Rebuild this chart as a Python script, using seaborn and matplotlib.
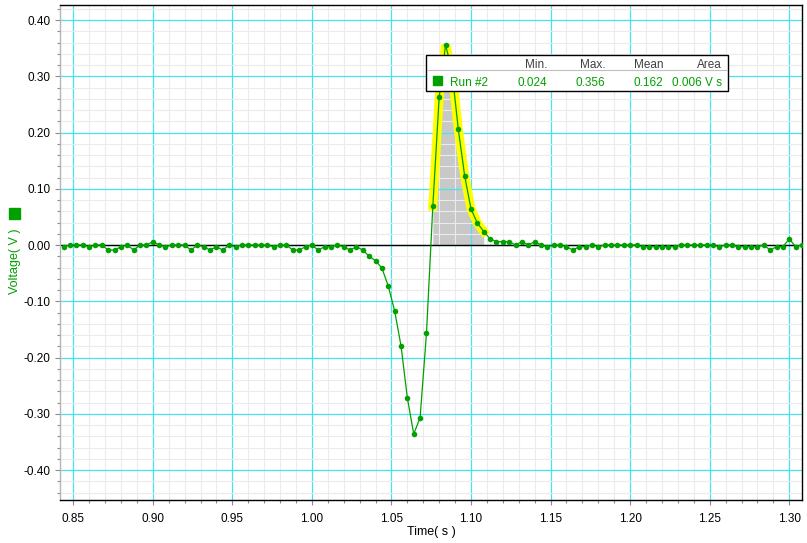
import numpy as np
import matplotlib
matplotlib.use("Agg")
import matplotlib.pyplot as plt
from matplotlib.patches import Rectangle
from matplotlib.lines import Line2D
from matplotlib.ticker import MultipleLocator, FuncFormatter
import seaborn as sns

time = [0.844, 0.848, 0.852, 0.856, 0.860, 0.864, 0.868, 0.872, 0.876, 0.880,
        0.884, 0.888, 0.892, 0.896, 0.900, 0.904, 0.908, 0.912, 0.916, 0.920,
        0.924, 0.928, 0.932, 0.936, 0.940, 0.944, 0.948, 0.952, 0.956, 0.960,
        0.964, 0.968, 0.972, 0.976, 0.980, 0.984, 0.988, 0.992, 0.996, 1.000,
        1.004, 1.008, 1.012, 1.016, 1.020, 1.024, 1.028, 1.032, 1.036, 1.040,
        1.044, 1.048, 1.052, 1.056, 1.060, 1.064, 1.068, 1.072, 1.076, 1.080,
        1.084, 1.088, 1.092, 1.096, 1.100, 1.104, 1.108, 1.112, 1.116, 1.120,
        1.124, 1.128, 1.132, 1.136, 1.140, 1.144, 1.148, 1.152, 1.156, 1.160,
        1.164, 1.168, 1.172, 1.176, 1.180, 1.184, 1.188, 1.192, 1.196, 1.200,
        1.204, 1.208, 1.212, 1.216, 1.220, 1.224, 1.228, 1.232, 1.236, 1.240,
        1.244, 1.248, 1.252, 1.256, 1.260, 1.264, 1.268, 1.272, 1.276, 1.280,
        1.284, 1.288, 1.292, 1.296, 1.300, 1.304, 1.308]
voltage = [-0.003, 0.0, 0.0, 0.0, -0.003, 0.0, 0.0, -0.009, -0.009, -0.003,
           0.0, -0.009, 0.0, 0.0, 0.006, 0.0, -0.003, 0.0, 0.0, 0.0,
           -0.009, 0.0, -0.003, -0.009, -0.003, -0.009, 0.0, -0.003, 0.0, 0.0,
           0.0, 0.0, 0.0, -0.003, 0.0, 0.0, -0.009, -0.009, -0.003, 0.0,
           -0.009, -0.003, -0.003, 0.0, -0.003, -0.009, -0.003, -0.009, -0.020, -0.028,
           -0.041, -0.073, -0.117, -0.179, -0.272, -0.336, -0.307, -0.157, 0.069, 0.263,
           0.356, 0.310, 0.206, 0.123, 0.064, 0.039, 0.024, 0.011, 0.006, 0.006,
           0.006, 0.0, 0.006, 0.0, 0.006, 0.0, -0.003, 0.0, 0.0, -0.003,
           -0.009, -0.003, -0.003, 0.0, -0.003, 0.0, 0.0, 0.0, 0.0, 0.0,
           0.0, -0.003, -0.003, -0.003, -0.003, -0.003, -0.003, 0.0, 0.0, 0.0,
           0.0, 0.0, 0.0, -0.003, 0.0, 0.0, -0.003, -0.003, -0.003, -0.003,
           0.0, -0.009, -0.003, -0.003, 0.011, -0.003, 0.0]
run_name = "Run #2"
sel_start, sel_end = 58, 66   # selected region (indices, inclusive)
stat_headers = ["Min.", "Max.", "Mean", "Area"]

GREEN = "#00A000"
CYAN = "#48E2EE"

sns.set_theme(style="white")
plt.rcParams['font.family'] = ['Liberation Sans', 'DejaVu Sans']
plt.rcParams['axes.unicode_minus'] = False

t = np.array(time)
v = np.array(voltage)
ts = t[sel_start:sel_end + 1]
vs = v[sel_start:sel_end + 1]
stats = [vs.min(), vs.max(), vs.mean(), np.trapezoid(vs, ts)]

fig = plt.figure(figsize=(8.07, 5.43), dpi=100)
W, H = 807, 543
def px(x, y):
    return x / W, 1 - y / H

ax = fig.add_axes([60 / W, 1 - 499.5 / H, 742 / W, 494.5 / H])

# selection: grey area + yellow highlight
ax.fill_between(ts, 0, vs, color="#C8C8C8", linewidth=0, zorder=0.3)
sns.lineplot(x=ts, y=vs, ax=ax, color="#FFFF00", linewidth=6.5, estimator=None,
             sort=False, zorder=3, solid_capstyle="projecting", solid_joinstyle="bevel")
ax.axhline(0, color="black", linewidth=1.0, zorder=2)
sns.lineplot(x=t, y=v, ax=ax, color=GREEN, linewidth=0.9, marker="o", markersize=4,
             markeredgewidth=0, estimator=None, sort=False, zorder=5)

ax.set_xlim(0.8417, 1.308)
ax.set_ylim(-0.4524, 0.4267)
ax.xaxis.set_major_locator(MultipleLocator(0.05))
ax.xaxis.set_minor_locator(MultipleLocator(0.01))
ax.yaxis.set_major_locator(MultipleLocator(0.1))
ax.yaxis.set_minor_locator(MultipleLocator(0.02))
fmt = FuncFormatter(lambda val, pos: f"{0 if abs(val) < 1e-9 else val:.2f}")
ax.xaxis.set_major_formatter(fmt)
ax.yaxis.set_major_formatter(fmt)

ax.set_axisbelow(True)
ax.grid(which="minor", color="#EBEBEB", linewidth=0.8)
ax.grid(which="major", color=CYAN, linewidth=0.9)

ax.tick_params(which="both", direction="out", color="#8C8C8C", width=0.8,
               labelsize=8.5, labelcolor="black")
ax.tick_params(which="major", length=3.6, pad=3)
ax.tick_params(which="minor", length=2.2)
ax.tick_params(axis="x", which="both", bottom=True, top=False)
ax.tick_params(axis="y", which="both", left=True, right=False)
ax.tick_params(axis="x", which="major", pad=6)

for side in ["top", "right", "bottom"]:
    ax.spines[side].set_color("black")
    ax.spines[side].set_linewidth(1.0)
ax.spines["left"].set_color("#B4B4B4")
ax.spines["left"].set_linewidth(1.0)

ax.set_xlabel("Time( s )", fontsize=9, color="black", labelpad=1)
ax.set_ylabel("")

# y label with run swatch
fig.text(*px(15, 261), "Voltage( V )", rotation=90, color=GREEN, fontsize=9,
         ha="center", va="center")
fig.patches.append(Rectangle(px(8.5, 219), 11 / W, 11 / H, color=GREEN,
                             transform=fig.transFigure, figure=fig))

# statistics box
bx0, by0, bx1, by1 = 426, 54.5, 727.5, 91
fig.patches.append(Rectangle(px(bx0, by1), (bx1 - bx0) / W, (by1 - by0) / H,
                             facecolor="white", edgecolor="black", linewidth=1.0,
                             transform=fig.transFigure, figure=fig, zorder=10))
fig.lines.append(Line2D([(bx0 + 1) / W, (bx1 - 1) / W], [1 - 70 / H, 1 - 70 / H],
                        color="#C0C0C0", linewidth=0.8, transform=fig.transFigure,
                        figure=fig, zorder=11))
fig.patches.append(Rectangle(px(432.5, 85), 9 / W, 9 / H, color=GREEN,
                             transform=fig.transFigure, figure=fig, zorder=11))
fig.text(*px(450, 85.5), run_name, color=GREEN, fontsize=8.5, ha="left",
         va="baseline", zorder=12)
col_right = [547.5, 605.5, 663.5, 721.5]
values = [f"{stats[0]:.3f}", f"{stats[1]:.3f}", f"{stats[2]:.3f}", f"{stats[3]:.3f} V s"]
for xr, head, val in zip(col_right, stat_headers, values):
    fig.text(*px(xr, 68), head, color="#404040", fontsize=8.5, ha="right",
             va="baseline", zorder=12)
    fig.text(*px(xr, 85.5), val, color=GREEN, fontsize=8.5, ha="right",
             va="baseline", zorder=12)

fig.savefig("out.png", dpi=100, facecolor="white")
